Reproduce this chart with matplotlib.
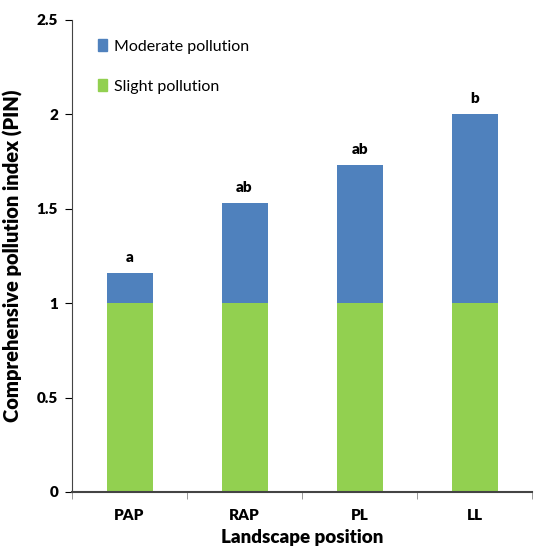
import matplotlib
matplotlib.use("Agg")
import matplotlib.pyplot as plt
from matplotlib.patches import Patch

categories = ["PAP", "RAP", "PL", "LL"]
slight = [1.0, 1.0, 1.0, 1.0]
totals = [1.16, 1.53, 1.73, 2.0]
moderate = [t - s for t, s in zip(totals, slight)]
letters = ["a", "ab", "ab", "b"]

plt.rcParams['font.family'] = ['Lato', 'DejaVu Sans']

fig = plt.figure(figsize=(5.35, 5.54), dpi=100)
ax = fig.add_axes([0.1346, 0.112, 0.860, 0.852])

x = list(range(len(categories)))
green = "#92D050"
blue = "#4F81BD"
ax.bar(x, slight, width=0.4, color=green, label="Slight pollution")
ax.bar(x, moderate, width=0.4, bottom=slight, color=blue, label="Moderate pollution")
for xi, t, l in zip(x, totals, letters):
    ax.text(xi, t + 0.05, l, ha="center", va="bottom", fontsize=11, fontweight="heavy")

ax.set_xlim(-0.5, 3.5)
ax.set_ylim(0, 2.5)
ax.set_yticks([0, 0.5, 1, 1.5, 2, 2.5])
ax.set_yticklabels(["0", "0.5", "1", "1.5", "2", "2.5"], fontweight="heavy", fontsize=11)
ax.set_xticks(x)
ax.set_xticklabels(categories, fontweight="heavy", fontsize=11)
ax.set_xticks([-0.5, 0.5, 1.5, 2.5, 3.5], minor=True)
ax.tick_params(axis="x", which="major", length=0, pad=12)
ax.tick_params(axis="x", which="minor", length=5, direction="out", color="#888888")
ax.tick_params(axis="y", length=5, direction="out", pad=5)
for s in ["top", "right"]:
    ax.spines[s].set_visible(False)
ax.spines["left"].set_color("#444444")
ax.spines["bottom"].set_color("#444444")
ax.spines["bottom"].set_linewidth(1.5)

ax.set_ylabel("Comprehensive pollution index (PIN)", fontsize=14.5, fontweight="heavy", labelpad=10)
ax.set_xlabel("Landscape position", fontsize=13.5, fontweight="heavy", labelpad=5)

handles = [Patch(color=blue, label="Moderate pollution"), Patch(color=green, label="Slight pollution")]
ax.legend(handles=handles, loc="upper left", bbox_to_anchor=(0.025, 0.99), frameon=False,
          fontsize=11.5, handlelength=0.6, handleheight=0.8, handletextpad=0.4, labelspacing=1.6)

fig.savefig("out.png", dpi=100)
